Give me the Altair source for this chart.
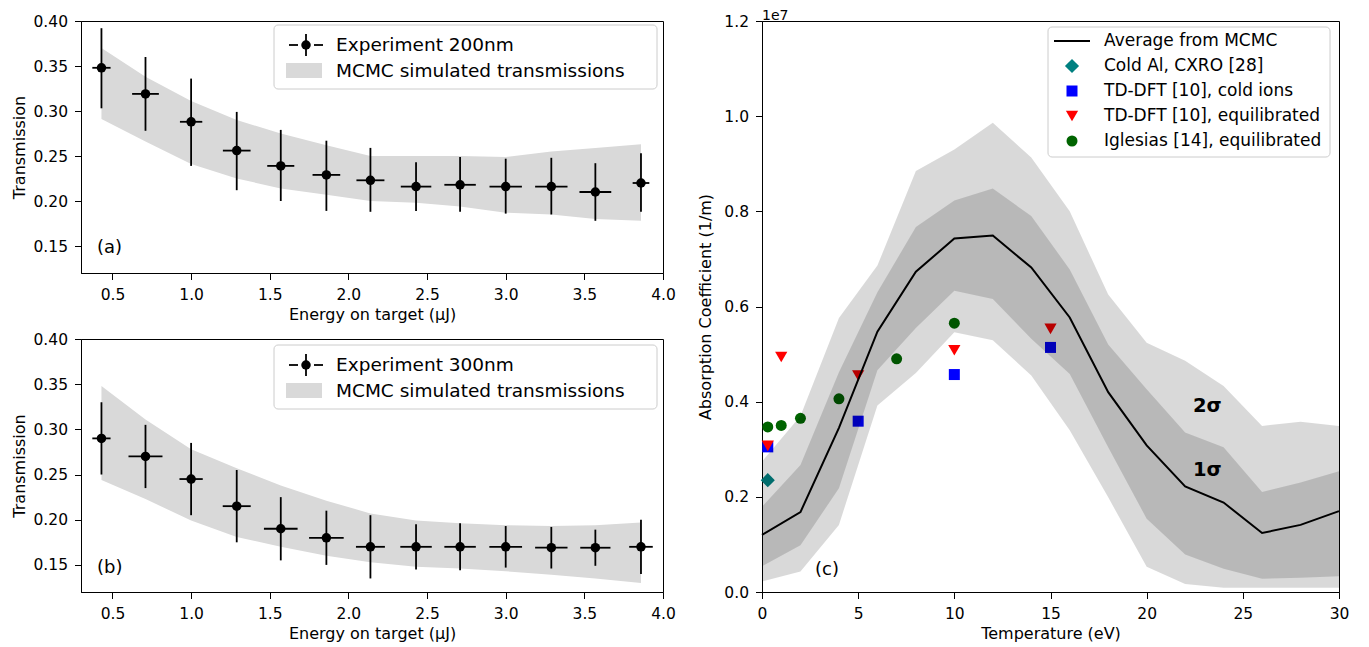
import altair as alt
import pandas as pd

FONT = "DejaVu Sans"

# ---------------- panels (a) and (b): transmission vs energy ----------------
energy = [0.43, 0.71, 1.00, 1.29, 1.57, 1.86, 2.14, 2.43, 2.71, 3.00, 3.29, 3.57, 3.86]

a_y = [0.348, 0.319, 0.288, 0.256, 0.239, 0.229, 0.223, 0.216, 0.218, 0.216, 0.216, 0.210, 0.220]
a_ylo = [0.303, 0.278, 0.239, 0.212, 0.200, 0.189, 0.188, 0.189, 0.188, 0.186, 0.185, 0.178, 0.188]
a_yhi = [0.392, 0.360, 0.336, 0.299, 0.279, 0.267, 0.259, 0.243, 0.249, 0.247, 0.248, 0.242, 0.253]
a_xerr = [0.058, 0.085, 0.071, 0.088, 0.086, 0.088, 0.089, 0.097, 0.100, 0.103, 0.103, 0.101, 0.053]
a_band_lo = [0.291, 0.266, 0.241, 0.225, 0.214, 0.207, 0.200, 0.198, 0.194, 0.187, 0.185, 0.180, 0.178]
a_band_hi = [0.370, 0.338, 0.311, 0.290, 0.275, 0.262, 0.250, 0.250, 0.250, 0.249, 0.255, 0.259, 0.263]

b_y = [0.290, 0.270, 0.245, 0.215, 0.190, 0.180, 0.170, 0.170, 0.170, 0.170, 0.169, 0.169, 0.170]
b_ylo = [0.250, 0.235, 0.205, 0.175, 0.155, 0.150, 0.135, 0.145, 0.144, 0.147, 0.146, 0.149, 0.140]
b_yhi = [0.330, 0.305, 0.285, 0.255, 0.225, 0.210, 0.205, 0.195, 0.196, 0.193, 0.192, 0.189, 0.200]
b_xerr = [0.058, 0.108, 0.074, 0.089, 0.107, 0.110, 0.092, 0.100, 0.100, 0.104, 0.103, 0.096, 0.075]
b_band_lo = [0.244, 0.223, 0.199, 0.181, 0.170, 0.160, 0.153, 0.148, 0.146, 0.143, 0.139, 0.135, 0.130]
b_band_hi = [0.348, 0.311, 0.278, 0.257, 0.238, 0.221, 0.207, 0.199, 0.196, 0.194, 0.193, 0.194, 0.197]

energy_ticks = [0.5, 1.0, 1.5, 2.0, 2.5, 3.0, 3.5, 4.0]
trans_ticks = [0.15, 0.20, 0.25, 0.30, 0.35, 0.40]

# ---------------- panel (c): absorption coefficient vs temperature (units of 1e7 1/m) ----------------
temp = [0, 2, 4, 6, 8, 10, 12, 14, 16, 18, 20, 22, 24, 26, 28, 30]
mcmc_mean = [0.120, 0.168, 0.345, 0.547, 0.673, 0.743, 0.749, 0.682, 0.577, 0.420, 0.308, 0.222, 0.188, 0.124, 0.141, 0.170]
mcmc_hi2 = [0.274, 0.370, 0.576, 0.686, 0.885, 0.930, 0.986, 0.913, 0.800, 0.625, 0.524, 0.486, 0.433, 0.349, 0.358, 0.349]
mcmc_hi1 = [0.179, 0.267, 0.462, 0.630, 0.767, 0.823, 0.848, 0.790, 0.678, 0.520, 0.426, 0.335, 0.304, 0.210, 0.230, 0.254]
mcmc_lo1 = [0.054, 0.098, 0.218, 0.466, 0.555, 0.633, 0.616, 0.532, 0.458, 0.304, 0.154, 0.079, 0.049, 0.028, 0.030, 0.033]
mcmc_lo2 = [0.022, 0.043, 0.141, 0.392, 0.460, 0.546, 0.529, 0.455, 0.340, 0.199, 0.053, 0.017, 0.009, 0.009, 0.009, 0.009]

cxro_T = [0.3]
cxro_v = [0.235]
tddft_cold_T = [0.3, 5, 10, 15]
tddft_cold_v = [0.305, 0.359, 0.457, 0.514]
tddft_eq_T = [0.3, 1, 5, 10, 15]
tddft_eq_v = [0.307, 0.494, 0.455, 0.508, 0.553]
iglesias_T = [0.3, 1, 2, 4, 7, 10]
iglesias_v = [0.347, 0.350, 0.365, 0.406, 0.490, 0.565]

temp_ticks = [0, 5, 10, 15, 20, 25, 30]
abs_ticks = [0.0, 0.2, 0.4, 0.6, 0.8, 1.0, 1.2]

legend_c_labels = ["Average from MCMC", "Cold Al, CXRO [28]", "TD-DFT [10], cold ions",
                   "TD-DFT [10], equilibrated", "Iglesias [14], equilibrated"]

ONE = pd.DataFrame({"k": [0]})

TICK = 6.5


def txt(s, x, y, size, align="left", baseline="middle", weight="normal"):
    return alt.Chart(ONE).mark_text(
        text=s, align=align, baseline=baseline, fontSize=size, font=FONT,
        fontWeight=weight, color="black"
    ).encode(x=alt.value(x), y=alt.value(y))


def transmission_panel(y, ylo, yhi, xerr, blo, bhi, label, tag, top_spacer, dy, h):
    df = pd.DataFrame({
        "E": energy, "y": y, "ylo": ylo, "yhi": yhi,
        "xlo": [e - d for e, d in zip(energy, xerr)],
        "xhi": [e + d for e, d in zip(energy, xerr)],
        "blo": blo, "bhi": bhi,
    })
    xs = alt.Scale(domain=[0.3, 4.0], nice=False, zero=False)
    ys = alt.Scale(domain=[0.12, 0.40], nice=False, zero=False)
    xax = alt.Axis(values=energy_ticks, format=".1f", title="Energy on target (μJ)",
                   labelPadding=7.5, titlePadding=4)
    yax = alt.Axis(values=trans_ticks, format=".2f", title="Transmission",
                   labelPadding=7, titlePadding=5)

    def X(f):
        return alt.X(f, type="quantitative", scale=xs, axis=xax)

    def Y(f):
        return alt.Y(f, type="quantitative", scale=ys, axis=yax)

    base = alt.Chart(df)
    band = base.mark_area(color="#d9d9d9").encode(x=X("E"), y=Y("blo"), y2="bhi")
    vbar = base.mark_rule(color="black", strokeWidth=1.8).encode(x=X("E"), y=Y("ylo"), y2="yhi")
    hbar = base.mark_rule(color="black", strokeWidth=1.8).encode(x=X("xlo"), x2="xhi", y=Y("y"))
    pts = base.mark_circle(color="black", size=90, opacity=1).encode(x=X("E"), y=Y("y"))

    box = alt.Chart(ONE).mark_rect(fill="white", fillOpacity=0.8, stroke="#cccccc",
                                   strokeWidth=1, cornerRadius=4).encode(
        x=alt.value(193), x2=alt.value(576), y=alt.value(7 + dy), y2=alt.value(71 + dy))
    l1 = alt.Chart(ONE).mark_rule(color="black", strokeWidth=1.8).encode(
        x=alt.value(208), x2=alt.value(217), y=alt.value(27 + dy))
    l2 = alt.Chart(ONE).mark_rule(color="black", strokeWidth=1.8).encode(
        x=alt.value(233), x2=alt.value(242), y=alt.value(27 + dy))
    l3 = alt.Chart(ONE).mark_rule(color="black", strokeWidth=1.8).encode(
        x=alt.value(225), y=alt.value(16 + dy), y2=alt.value(38 + dy))
    l4 = alt.Chart(ONE).mark_circle(color="black", size=90, opacity=1).encode(
        x=alt.value(225), y=alt.value(27 + dy))
    l5 = alt.Chart(ONE).mark_rect(color="#d9d9d9").encode(
        x=alt.value(205), x2=alt.value(241), y=alt.value(45 + dy), y2=alt.value(60 + dy))
    t1 = txt(label, 255, 27 + dy, 18.5)
    t2 = txt("MCMC simulated transmissions", 255, 53 + dy, 18.5)
    tg = txt(tag, 16, 230 + dy, 18)
    layers = [band, vbar, hbar, pts, box, l1, l2, l3, l4, l5, t1, t2, tg]
    if top_spacer:
        # invisible spacer so this row's top bound matches panel (c), which has "1e7" above it
        sp = alt.Chart(ONE).mark_rule(opacity=0, color="white").encode(
            x=alt.value(300), y=alt.value(-12), y2=alt.value(-1))
        layers.append(sp)
    return alt.layer(*layers).properties(width=582, height=h)


panel_a = transmission_panel(a_y, a_ylo, a_yhi, a_xerr, a_band_lo, a_band_hi,
                             "Experiment 200nm", "(a)", True, -3, 252)
panel_b = transmission_panel(b_y, b_ylo, b_yhi, b_xerr, b_band_lo, b_band_hi,
                             "Experiment 300nm", "(b)", False, -1, 253)

# ---------------- panel (c) ----------------
dfc = pd.DataFrame({"T": temp, "mean": mcmc_mean, "hi2": mcmc_hi2, "hi1": mcmc_hi1,
                    "lo1": mcmc_lo1, "lo2": mcmc_lo2})
cxs = alt.Scale(domain=[0, 30], nice=False, zero=False)
cys = alt.Scale(domain=[0, 1.2], nice=False, zero=False)
cxax = alt.Axis(values=temp_ticks, format="d", title="Temperature (eV)",
                labelPadding=7.5, titlePadding=4)
cyax = alt.Axis(values=abs_ticks, format=".1f", title="Absorption Coefficient (1/m)",
                labelPadding=7, titlePadding=10)


def CX(f):
    return alt.X(f, type="quantitative", scale=cxs, axis=cxax)


def CY(f):
    return alt.Y(f, type="quantitative", scale=cys, axis=cyax)


def series(Ts, vs, shape, color, size):
    d = pd.DataFrame({"T": Ts, "v": vs})
    return alt.Chart(d).mark_point(shape=shape, filled=True, color=color, size=size,
                                   opacity=1, strokeWidth=0).encode(x=CX("T"), y=CY("v"))


p_cxro = series(cxro_T, cxro_v, "diamond", "#008080", 200)
p_cold = series(tddft_cold_T, tddft_cold_v, "square", "#0000ff", 121)
p_eq = series(tddft_eq_T, tddft_eq_v, "triangle-down", "#ff0000", 150)
p_igl = series(iglesias_T, iglesias_v, "circle", "#006400", 121)

basec = alt.Chart(dfc)
band2 = basec.mark_area(color="black", fillOpacity=0.15).encode(x=CX("T"), y=CY("lo2"), y2="hi2")
band1 = basec.mark_area(color="black", fillOpacity=0.15).encode(x=CX("T"), y=CY("lo1"), y2="hi1")
mline = basec.mark_line(color="black", strokeWidth=2).encode(x=CX("T"), y=CY("mean"))

sig2 = txt("2σ", 431, 385, 19.5, weight="bold")
sig1 = txt("1σ", 431, 449, 19.5, weight="bold")
tagc = txt("(c)", 53, 549, 18)
exp_t = txt("1e7", 0, -1, 14, baseline="alphabetic")

boxc = alt.Chart(ONE).mark_rect(fill="white", fillOpacity=0.8, stroke="#cccccc",
                                strokeWidth=1, cornerRadius=4).encode(
    x=alt.value(286), x2=alt.value(568), y=alt.value(6), y2=alt.value(136))
rows_y = [20, 45, 70, 95, 120]
leg_line = alt.Chart(ONE).mark_rule(color="black", strokeWidth=2).encode(
    x=alt.value(292), x2=alt.value(328), y=alt.value(rows_y[0]))


def leg_pt(shape, color, size, yy):
    return alt.Chart(ONE).mark_point(shape=shape, filled=True, color=color, size=size,
                                     opacity=1, strokeWidth=0).encode(
        x=alt.value(310), y=alt.value(yy))


leg_pts = [
    leg_pt("diamond", "#008080", 200, rows_y[1]),
    leg_pt("square", "#0000ff", 121, rows_y[2]),
    leg_pt("triangle-down", "#ff0000", 150, rows_y[3]),
    leg_pt("circle", "#006400", 121, rows_y[4]),
]
leg_txt = [txt(s, 342, yy, 17) for s, yy in zip(legend_c_labels, rows_y)]

panel_c = alt.layer(
    p_cxro, p_cold, p_eq, p_igl, band2, band1, mline, sig2, sig1, tagc, exp_t,
    boxc, leg_line, *leg_pts, *leg_txt
).properties(width=577, height=571)

left = alt.vconcat(panel_a, panel_b, spacing=66, bounds="flush")
chart = alt.hconcat(left, panel_c, spacing=21).properties(
    padding={"left": 3, "top": 0, "right": 5, "bottom": 0}
).configure_axis(
    labelFont=FONT, titleFont=FONT, labelFontSize=15.5, titleFontSize=16,
    titleFontWeight="normal", labelColor="black", titleColor="black",
    domainColor="black", tickColor="black", tickSize=TICK,
    grid=False, domainWidth=1, tickWidth=1,
    labelFlush=False, labelOverlap=False
).configure_view(stroke="black", strokeWidth=1)

chart.save("out.html", embed_options={"renderer": "svg", "actions": False})
